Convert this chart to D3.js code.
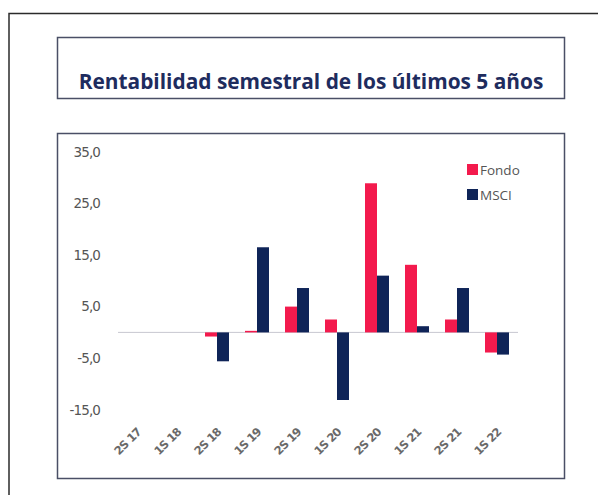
<!DOCTYPE html>
<html><head><meta charset="utf-8">
<script src="https://cdn.jsdelivr.net/npm/d3@7"></script>
<style>body{margin:0;background:#fff}svg{display:block}</style>
</head><body>
<svg id="c" width="598" height="495"></svg>
<script>
const categories = ["2S 17","1S 18","2S 18","1S 19","2S 19","1S 20","2S 20","1S 21","2S 21","1S 22"];
const fondo = [null, null, -0.8, 0.3, 5.0, 2.5, 28.9, 13.1, 2.5, -3.9];
const msci  = [null, null, -5.6, 16.5, 8.6, -13.1, 11.0, 1.2, 8.6, -4.3];
const seriesNames = ["Fondo","MSCI"];
const yTicks = [35, 25, 15, 5, -5, -15];
const title = "Rentabilidad semestral de los últimos 5 años";

const colors = {Fondo:"#f31a4d", MSCI:"#0f2458"};
const svg = d3.select("#c");

// outer frame
svg.append("path").attr("d","M9,500 V13.5 H605").attr("fill","none").attr("stroke","#2b2b2b").attr("stroke-width",1.5);
// title box
svg.append("rect").attr("x",57.5).attr("y",37.5).attr("width",507).attr("height",61)
  .attr("fill","#fff").attr("stroke","#4a4f66").attr("stroke-width",1.5);
const t = svg.append("text").attr("x",311).attr("y",89).attr("text-anchor","middle")
  .attr("font-family","'Open Sans', sans-serif").attr("font-weight","bold").attr("font-size",17)
  .attr("fill","#1e2c5e").text(title);
const tw = t.node().getComputedTextLength();
t.attr("font-size", 17*465/tw);
// chart box
svg.append("rect").attr("x",57.5).attr("y",133.5).attr("width",507).attr("height",345)
  .attr("fill","#fff").attr("stroke","#4a4f66").attr("stroke-width",1.5);

const y = d3.scaleLinear().domain([-15,35]).range([409.8,151.8]);
const x0 = d3.scaleBand().domain(categories).range([117,517]).paddingInner(0.4).paddingOuter(0.2);
const x1 = d3.scaleBand().domain(seriesNames).range([0,x0.bandwidth()]);

// y axis labels
const yAxis = d3.axisLeft(y).tickValues(yTicks).tickSize(0).tickPadding(0)
  .tickFormat(d => d3.format(".1f")(d).replace(".",",").replace("−","-"));
const ga = svg.append("g").attr("transform","translate(100,0)").call(yAxis);
ga.select(".domain").remove();
ga.selectAll("text").attr("font-family","'DejaVu Sans', sans-serif").attr("font-size",13.5)
  .attr("fill","#555").attr("letter-spacing","-0.9");

// zero line
svg.append("line").attr("x1",118).attr("x2",518).attr("y1",y(0)).attr("y2",y(0))
  .attr("stroke","#c8c8d0").attr("stroke-width",1);

// bars
const rows = categories.map((c,i)=>({c, vals:[{k:"Fondo",v:fondo[i]},{k:"MSCI",v:msci[i]}]}));
const g = svg.append("g");
g.selectAll("g").data(rows).join("g").attr("transform",d=>`translate(${x0(d.c)},0)`)
  .selectAll("rect").data(d=>d.vals.filter(e=>e.v!==null)).join("rect")
  .attr("x",d=>x1(d.k)).attr("width",x1.bandwidth())
  .attr("y",d=>y(Math.max(0,d.v))).attr("height",d=>Math.abs(y(d.v)-y(0)))
  .attr("fill",d=>colors[d.k]);

// x axis labels
const xAxis = d3.axisBottom(x0).tickSize(0).tickPadding(0);
const gx = svg.append("g").attr("transform","translate(2,430)").call(xAxis);
gx.select(".domain").remove();
gx.selectAll("text").attr("text-anchor","end").attr("dy","0.35em")
  .attr("transform","rotate(-45)")
  .attr("font-family","'DejaVu Sans', sans-serif").attr("font-weight","bold").attr("font-size",11.5)
  .attr("letter-spacing","-0.8").attr("fill","#6a6a6a");

// legend
const leg = svg.append("g").attr("transform","translate(467,164)");
seriesNames.forEach((s,i)=>{
  const r = leg.append("g").attr("transform",`translate(0,${i*25})`);
  r.append("rect").attr("width",11).attr("height",11).attr("fill",colors[s]);
  r.append("text").attr("x",13).attr("y",10.5).attr("font-family","'Open Sans', sans-serif")
    .attr("font-size",13.5).attr("fill","#555").text(s);
});
</script>
</body></html>
